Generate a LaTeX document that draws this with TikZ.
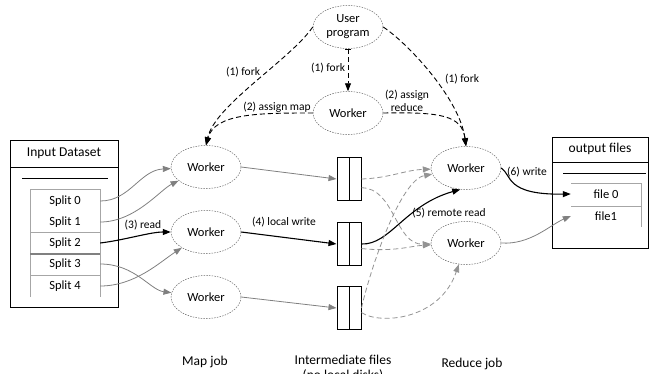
\documentclass[tikz,border=0pt]{standalone}
\usepackage{fontspec}
\setmainfont{Carlito}
\usepackage{tikz}
\usetikzlibrary{positioning,arrows.meta,shapes.geometric}

\tikzset{
  worker/.style={ellipse,draw=gray!80!black,dash pattern=on 1.5pt off 1.2pt,line width=0.5pt,minimum width=70pt,minimum height=43pt,inner sep=0pt,font=\fontsize{12.5}{14}\selectfont},
  interfile/.style={rectangle,draw,line width=1pt,minimum width=24pt,minimum height=43pt,inner sep=0pt,
    path picture={\draw[line width=1pt] (path picture bounding box.north) -- (path picture bounding box.south);}},
  entry/.style={minimum width=70pt,inner sep=0pt,font=\fontsize{12.5}{14}\selectfont},
  header/.style={font=\fontsize{13.5}{15}\selectfont},
  lbl/.style={font=\fontsize{11.5}{13}\selectfont,inner sep=0pt,align=center},
  tip/.style={-{Triangle[length=8pt,width=6pt]}},
  datalink/.style={tip,draw=gray,fill=none,line width=0.8pt},
  mainlink/.style={tip,draw=black,line width=1.1pt},
  ctrllink/.style={tip,draw=black,line width=0.9pt,dash pattern=on 5pt off 3pt},
  fetchlink/.style={tip,draw=gray!85,line width=0.8pt,dash pattern=on 5pt off 3pt}
}

\begin{document}
\begin{tikzpicture}[x=1pt,y=-1pt]
\useasboundingbox (0,0) rectangle (650,373);

% input dataset
\draw[line width=0.8pt] (10,140) rectangle (118,307);
\draw[line width=0.8pt] (10,167) -- (118,167);
\node[header] (indata) at (64,153) {Input Dataset};
\draw[line width=1pt] (22,178) -- (108,178);
\draw[gray!70,line width=0.8pt] (30,297) -- (30,189) -- (100,189) -- (100,297);
\draw[gray!70,line width=0.6pt] (30,232) -- (100,232);
\draw[gray,line width=1.4pt] (30,254) -- (100,254);
\draw[gray!70,line width=0.6pt] (30,275) -- (100,275);
\node[entry] (s0) at (65,201) {Split 0};
\node[entry] (s1) at (65,222) {Split 1};
\node[entry] (s2) at (65,243) {Split 2};
\node[entry] (s3) at (65,264) {Split 3};
\node[entry] (s4) at (65,286) {Split 4};

% output files
\draw[line width=0.8pt] (552,137) rectangle (648.6,248);
\draw[line width=0.8pt] (552,162) -- (648.6,162);
\node[header] (outdata) at (600,149) {output files};
\draw[line width=1pt] (563,173) -- (646,173);
\draw[gray!70,line width=0.8pt] (571,183) -- (641,183) -- (641,227);
\draw[gray!70,line width=0.6pt] (571,206) -- (641,206);
\node[entry] (o0) at (606,194) {file 0};
\node[entry] (o1) at (606,216) {file1};

% workers
\node[worker,align=center] (user) at (348,27) {User\\program};
\node[worker] (master) at (348,113) {Worker};
\node[worker] (m1) at (206,167) {Worker};
\node[worker] (m2) at (206,232) {Worker};
\node[worker] (m3) at (206,297) {Worker};
\node[worker] (r1) at (466,168) {Worker};
\node[worker] (r2) at (466,243) {Worker};

% intermediate files
\node[interfile] (f1) at (349,179) {};
\node[interfile] (f2) at (349,244) {};
\node[interfile] (f3) at (349,308) {};

% labels
\node[header] (mapjob) at (205,362) {Map job};
\node[header,align=center] (interjob) at (343,368) {Intermediate files\\(no local disks)};
\node[header] (redjob) at (472,364) {Reduce job};
\node[lbl] (l1) at (243,72) {(1) fork};
\node[lbl] (l2) at (328,68) {(1) fork};
\node[lbl] (l3) at (462,79) {(1) fork};
\node[lbl] (l4) at (277,107) {(2) assign map};
\node[lbl] (l5) at (407,101) {(2) assign\\reduce};
\node[lbl] (l6) at (143,225) {(3) read};
\node[lbl] (l7) at (284,222) {(4) local write};
\node[lbl] (l8) at (449,213) {(5) remote read};
\node[lbl] (l9) at (527,172) {(6) write};

% control
\draw[ctrllink] (user.west) .. controls (290,60) and (215,105) .. (m1.north);
\draw[ctrllink] (master.west) .. controls (260,113) and (215,113) .. (m1.north);
\draw[ctrllink,{Bar[width=6pt]}-{Triangle[length=8pt,width=6pt]}] (user.south) -- (master.north);
\draw[ctrllink] (user.east) .. controls (410,45) and (460,100) .. (r1.north);
\draw[ctrllink] (master.east) .. controls (440,112) and (462,115) .. (r1.north);

% map input
\draw[datalink] (s0.east) .. controls (130,201) and (140,170) .. (m1);
\draw[datalink] (s1.east) .. controls (135,222) and (160,190) .. (m1);
\draw[mainlink] (s2.east) .. controls (125,240) and (150,232) .. (m2);
\draw[datalink] (s3.east) .. controls (135,264) and (150,290) .. (m3);
\draw[datalink] (s4.east) .. controls (135,286) and (160,262) .. (m2);

% map output
\draw[datalink] (m1.east) -- (f1.west);
\draw[mainlink] (m2.east) -- (f2.west);
\draw[datalink] (m3.east) -- (f3.west);

% reduce input
\draw[fetchlink] (f1.east) .. controls (390,178) and (405,170) .. (r1);
\draw[fetchlink] (f1.-35) .. controls (395,188) and (395,245) .. (r2);
\draw[mainlink] (f2.east) .. controls (390,245) and (405,205) .. (r1.-105);
\draw[fetchlink] (f2.-20) .. controls (395,252) and (410,246) .. (r2);
\draw[fetchlink] (f3.east) .. controls (370,270) and (400,180) .. (r1);
\draw[fetchlink] (f3.-20) .. controls (380,325) and (440,320) .. (r2);

% reduce output
\draw[mainlink] (r1.east) .. controls (512,175) and (505,195) .. (o0.west);
\draw[datalink] (r2.east) .. controls (530,245) and (550,225) .. (o1.west);

\end{tikzpicture}
\end{document}
